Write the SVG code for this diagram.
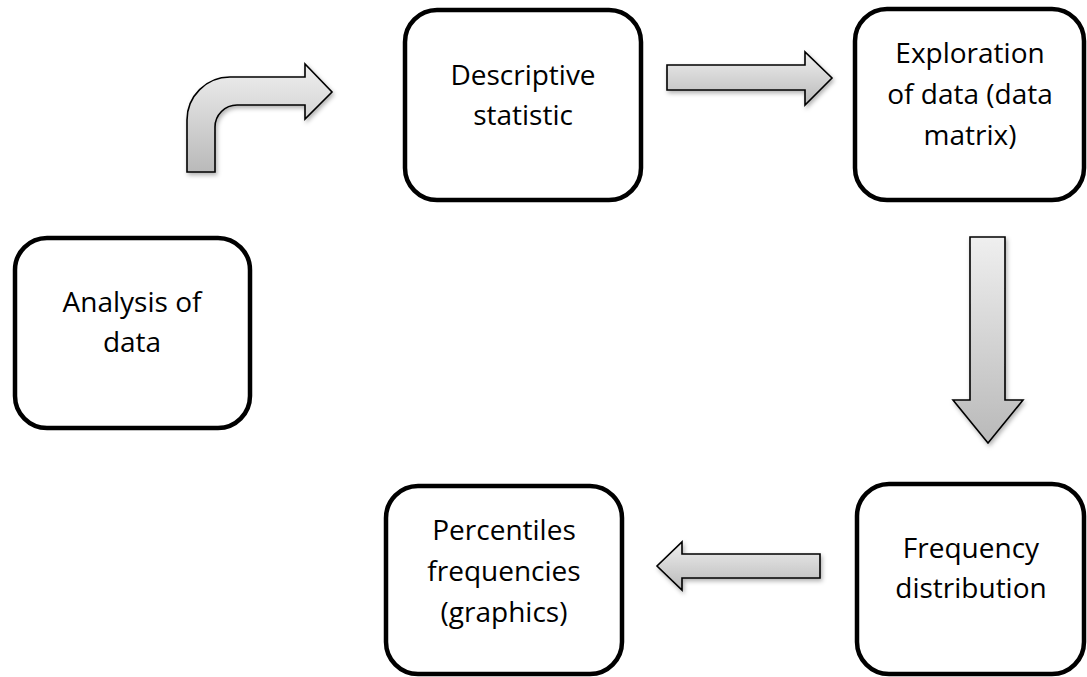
<svg xmlns="http://www.w3.org/2000/svg" width="1087" height="677" viewBox="0 0 1087 677">
<style>
.box{fill:#fff;stroke:#000;stroke-width:4.5}
.lbl{font-family:"Open Sans","Liberation Sans",sans-serif;font-size:28px;fill:#000;text-anchor:middle}
.arr{fill:url(#g);stroke:#000;stroke-width:1.6;stroke-linejoin:miter;filter:url(#sh)}
</style>
<defs>
<linearGradient id="g" x1="0" y1="0" x2="0" y2="1">
<stop offset="0" stop-color="#efefef"/>
<stop offset="1" stop-color="#b9b9b9"/>
</linearGradient>
<filter id="sh" x="-20%" y="-20%" width="140%" height="140%">
<feDropShadow dx="1.5" dy="2.5" stdDeviation="2" flood-color="#000" flood-opacity="0.3"/>
</filter>
</defs>
<g id="connectors">
<path class="arr" d="M187,172 L187,120 A43,43 0 0 1 230,77 L305,77 L305,64 L332,92 L305,119 L305,105 L237,105 A22,22 0 0 0 215,127 L215,172 Z"/>
<path class="arr" d="M667,65 L805,65 L805,52 L832,78 L805,105 L805,90 L667,90 Z"/>
<path class="arr" d="M970,237 L1005,237 L1005,400 L1023,400 L988,443 L953,400 L970,400 Z"/>
<path class="arr" d="M820,554 L682,554 L682,542 L657,566 L682,590 L682,578 L820,578 Z"/>
</g>
<g id="analysis">
<rect class="box" x="15" y="238" width="235" height="190" rx="32"/>
<text class="lbl" x="132" y="312">Analysis of</text>
<text class="lbl" x="132" y="352">data</text>
</g>
<g id="descriptive">
<rect class="box" x="405" y="10" width="236" height="190" rx="32"/>
<text class="lbl" x="523" y="85">Descriptive</text>
<text class="lbl" x="523" y="125">statistic</text>
</g>
<g id="exploration">
<rect class="box" x="855" y="9" width="229" height="191" rx="32"/>
<text class="lbl" x="970" y="63">Exploration</text>
<text class="lbl" x="970" y="104">of data (data</text>
<text class="lbl" x="970" y="145">matrix)</text>
</g>
<g id="frequency">
<rect class="box" x="857" y="484" width="227" height="190" rx="32"/>
<text class="lbl" x="971" y="558">Frequency</text>
<text class="lbl" x="971" y="598">distribution</text>
</g>
<g id="percentiles">
<rect class="box" x="386" y="486" width="236" height="188" rx="32"/>
<text class="lbl" x="504" y="540">Percentiles</text>
<text class="lbl" x="504" y="581">frequencies</text>
<text class="lbl" x="504" y="622">(graphics)</text>
</g>
</svg>
